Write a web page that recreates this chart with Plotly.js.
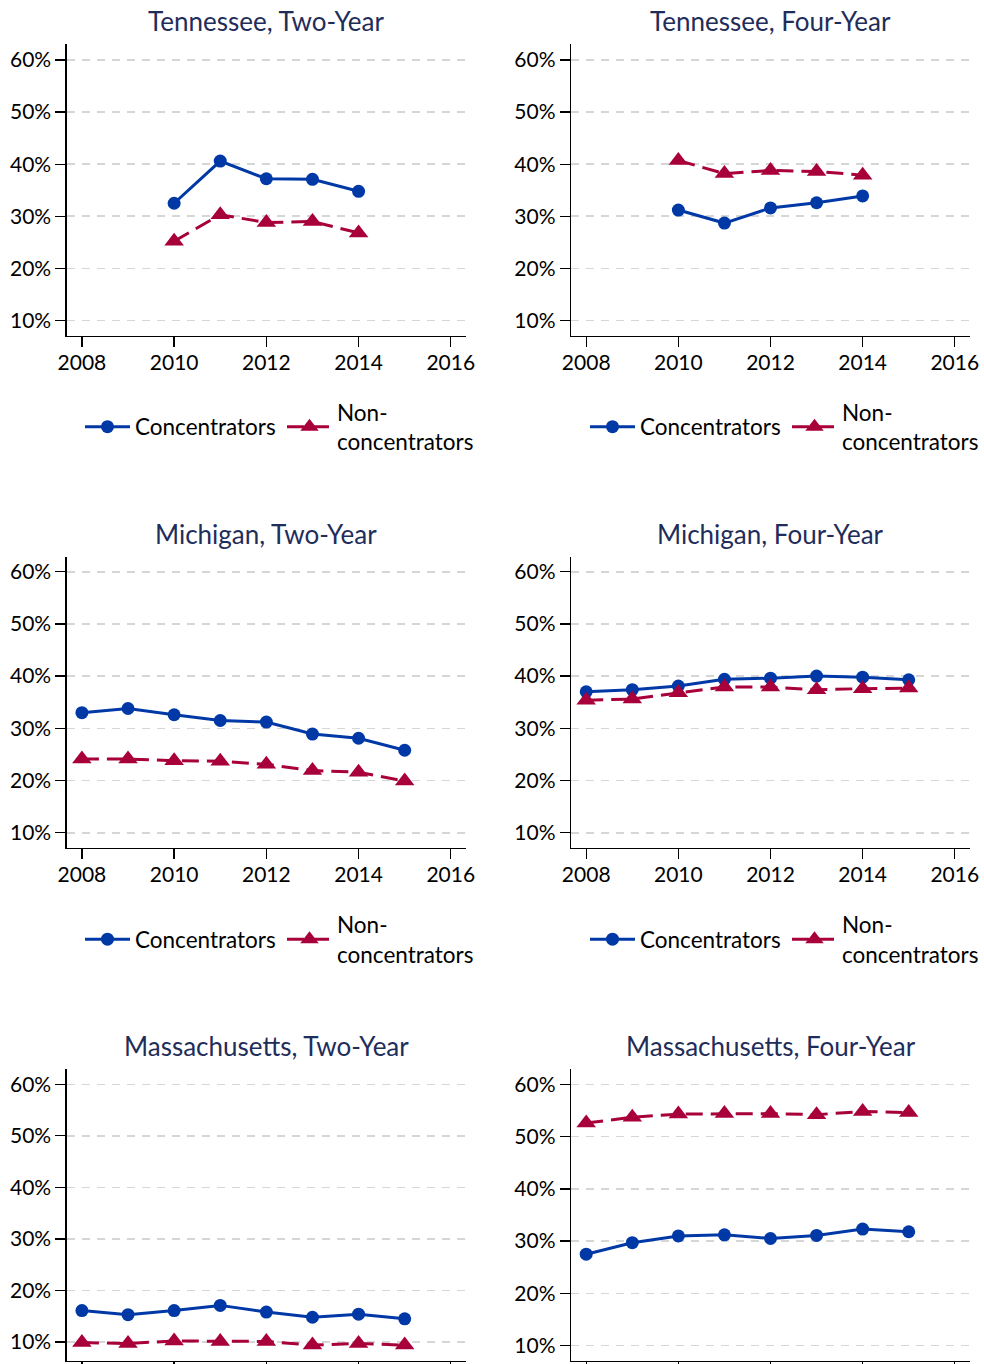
<!DOCTYPE html>
<html>
<head>
<meta charset="utf-8">
<script src="https://cdn.plot.ly/plotly-3.0.1.min.js"></script>
<style>
  html, body { margin: 0; padding: 0; background: #ffffff; }
  #chart { width: 984px; height: 1364px; }
</style>
</head>
<body>
<div id="chart"></div>
<script>
// ---------------- data (percent) ----------------
const tnYears = [2010, 2011, 2012, 2013, 2014];
const tnTwoConc = [32.5, 40.6, 37.2, 37.1, 34.8];
const tnTwoNon  = [25.2, 30.3, 28.8, 29.0, 26.8];
const tnFourConc = [31.2, 28.7, 31.6, 32.6, 33.9];
const tnFourNon  = [40.7, 38.2, 38.8, 38.6, 37.9];

const miYears = [2008, 2009, 2010, 2011, 2012, 2013, 2014, 2015];
const miTwoConc = [33.0, 33.8, 32.6, 31.5, 31.2, 28.9, 28.1, 25.8];
const miTwoNon  = [24.1, 24.1, 23.8, 23.7, 23.1, 21.9, 21.6, 19.9];
const miFourConc = [37.0, 37.4, 38.1, 39.4, 39.6, 40.0, 39.8, 39.3];
const miFourNon  = [35.4, 35.6, 36.8, 37.9, 37.9, 37.4, 37.6, 37.7];

const maYears = [2008, 2009, 2010, 2011, 2012, 2013, 2014, 2015];
const maTwoConc = [16.1, 15.3, 16.1, 17.1, 15.8, 14.8, 15.4, 14.5];
const maTwoNon  = [9.9, 9.7, 10.2, 10.1, 10.1, 9.4, 9.7, 9.4];
const maFourConc = [27.5, 29.7, 31.0, 31.2, 30.5, 31.1, 32.3, 31.8];
const maFourNon  = [52.6, 53.7, 54.3, 54.4, 54.4, 54.2, 54.8, 54.6];

const panelTitles = [
  'Tennessee, Two-Year', 'Tennessee, Four-Year',
  'Michigan, Two-Year', 'Michigan, Four-Year',
  'Massachusetts, Two-Year', 'Massachusetts, Four-Year'
];
const seriesNames = ['Concentrators', 'Non-<br>concentrators'];
const xTickVals = [2008, 2010, 2012, 2014, 2016];
const xTickText = ['2008', '2010', '2012', '2014', '2016'];
const yTickVals = [10, 20, 30, 40, 50, 60];
const yTickText = ['10%', '20%', '30%', '40%', '50%', '60%'];

// ---------------- layout helpers ----------------
const W = 984, H = 1364;
const px = v => v / W;
const py = v => 1 - v / H;

const BLUE = '#0039A6';
const RED = '#A8003A';
const NAVY = '#1f2d5a';
const FONT = 'Lato, "Open Sans", sans-serif';

const cols = [[66.7, 466], [571, 970]];
const rows = [[44, 336], [557, 848], [1069, 1361]];
const yRanges = [
  [7.02, 63.07], [7.02, 63.07],
  [7.07, 62.82], [7.07, 62.82],
  [6.31, 62.97], [7.07, 62.93]
];
const titleY = [21, 533.5, 1046];
const legendY = [427, 939.5];
const legendX = [[80, 282], [585, 787]];

const panels = [
  [tnYears, tnTwoConc, tnTwoNon], [tnYears, tnFourConc, tnFourNon],
  [miYears, miTwoConc, miTwoNon], [miYears, miFourConc, miFourNon],
  [maYears, maTwoConc, maTwoNon], [maYears, maFourConc, maFourNon]
];

const traces = [];
const layout = {
  width: W, height: H,
  margin: {l: 0, r: 0, t: 0, b: 0, pad: 0},
  paper_bgcolor: '#ffffff',
  plot_bgcolor: '#ffffff',
  font: {family: FONT, size: 21, color: '#000000'},
  showlegend: true,
  hovermode: false,
  annotations: []
};

let legendCount = 0;
panels.forEach((p, i) => {
  const r = Math.floor(i / 2), c = i % 2;
  const n = i + 1;
  const xa = 'xaxis' + (n === 1 ? '' : n);
  const ya = 'yaxis' + (n === 1 ? '' : n);
  const xr = 'x' + (n === 1 ? '' : n);
  const yr = 'y' + (n === 1 ? '' : n);

  layout[xa] = {
    domain: [px(cols[c][0]), px(cols[c][1])],
    anchor: yr,
    range: [2007.67, 2016.33],
    tickmode: 'array', tickvals: xTickVals, ticktext: xTickText,
    showticklabels: r < 2,
    showgrid: false, zeroline: false,
    showline: true, linecolor: '#000000', linewidth: 1.3,
    ticks: 'outside', ticklen: 10, tickwidth: 1.3, tickcolor: '#000000',
    ticklabelstandoff: -3,
    tickfont: {family: FONT, size: 21, color: '#000000'},
    fixedrange: true
  };
  layout[ya] = {
    domain: [py(rows[r][1]), py(rows[r][0])],
    anchor: xr,
    range: yRanges[i],
    tickmode: 'array', tickvals: yTickVals, ticktext: yTickText,
    showgrid: true, gridcolor: '#d6d6d6', gridwidth: 1.6, griddash: '8px,7px',
    zeroline: false,
    showline: true, linecolor: '#000000', linewidth: 1.3,
    ticks: 'outside', ticklen: 10, tickwidth: 1.3, tickcolor: '#000000',
    tickfont: {family: FONT, size: 21, color: '#000000'},
    fixedrange: true
  };

  layout.annotations.push({
    text: panelTitles[i],
    xref: 'paper', yref: 'paper',
    x: px((cols[c][0] + cols[c][1]) / 2), y: py(titleY[r]),
    xanchor: 'center', yanchor: 'middle',
    showarrow: false,
    font: {family: FONT, size: 26, color: NAVY}
  });

  const hasLegend = r < 2;
  let lgA = null, lgB = null;
  if (hasLegend) {
    legendCount++;
    lgA = 'legend' + (legendCount === 1 ? '' : legendCount);
    layout[lgA] = {
      x: px(legendX[c][0]), y: py(legendY[r]),
      xanchor: 'left', yanchor: 'middle',
      bgcolor: 'rgba(0,0,0,0)', borderwidth: 0,
      itemwidth: 45, valign: 'middle',
      font: {family: FONT, size: 22.5, color: '#000000'}
    };
    legendCount++;
    lgB = 'legend' + legendCount;
    layout[lgB] = {
      x: px(legendX[c][1]), y: py(legendY[r]),
      xanchor: 'left', yanchor: 'middle',
      bgcolor: 'rgba(0,0,0,0)', borderwidth: 0,
      itemwidth: 45, valign: 'middle',
      font: {family: FONT, size: 22.5, color: '#000000'}
    };
  }

  traces.push({
    type: 'scatter', mode: 'lines+markers',
    x: p[0], y: p[1], xaxis: xr, yaxis: yr,
    name: seriesNames[0],
    line: {color: BLUE, width: 3},
    marker: {color: BLUE, size: 13, symbol: 'circle'},
    showlegend: hasLegend,
    legend: hasLegend ? lgA : undefined,
    cliponaxis: false
  });
  traces.push({
    type: 'scatter', mode: 'lines+markers',
    x: p[0], y: p[2], xaxis: xr, yaxis: yr,
    name: seriesNames[1],
    line: {color: RED, width: 3, dash: '17px,8px'},
    marker: {color: RED, size: 17, symbol: 'triangle-up'},
    showlegend: hasLegend,
    legend: hasLegend ? lgB : undefined,
    cliponaxis: false
  });
});

Plotly.newPlot('chart', traces, layout, {staticPlot: true, displayModeBar: false});
</script>
</body>
</html>
